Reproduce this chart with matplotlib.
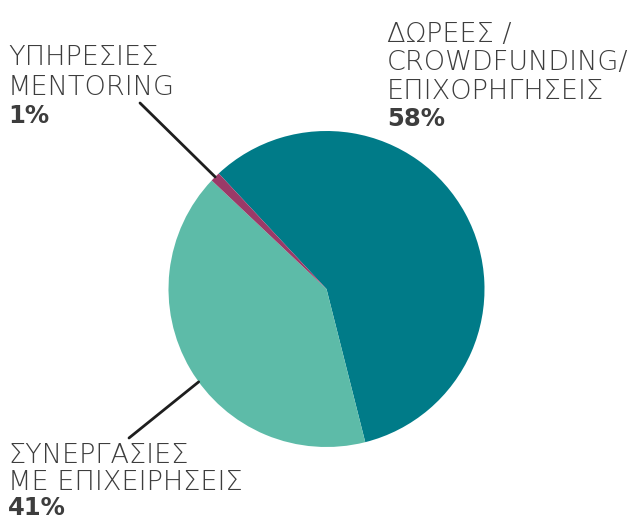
import numpy as np
import matplotlib
matplotlib.use("Agg")
import matplotlib.pyplot as plt

W, H = 640, 522

labels = [["ΔΩΡΕΕΣ /", "CROWDFUNDING/", "ΕΠΙΧΟΡΗΓΗΣΕΙΣ"],
          ["ΣΥΝΕΡΓΑΣΙΕΣ", "ΜΕ ΕΠΙΧΕΙΡΗΣΕΙΣ"],
          ["ΥΠΗΡΕΣΙΕΣ", "MENTORING"]]
values = [58, 41, 1]
colors = ["#007b88", "#5dbba8", "#9b3a68"]

text_color = "#3d3d3d"
plt.rcParams["font.family"] = ["DejaVu Sans"]


def px(x, y):
    # pixel coords from top-left -> figure fraction
    return x / W, 1 - y / H


fig = plt.figure(figsize=(W / 100, H / 100), dpi=100)
cx, cy, r = 326.5, 289, 158
ax = fig.add_axes([(cx - r) / W, (H - cy - r) / H, 2 * r / W, 2 * r / H])
wedges, _ = ax.pie(values, colors=colors, startangle=133, counterclock=False,
                   radius=1, wedgeprops=dict(linewidth=0))
ax.set_xlim(-1, 1)
ax.set_ylim(-1, 1)
ax.axis("off")


def label(x, y, lines, val, pitch=28.5):
    # y = baseline of the first line
    for i, s in enumerate(lines):
        fig.text(*px(x, y + i * pitch), s, ha="left", va="baseline", fontsize=19.5,
                 color=text_color, fontweight="light")
    fig.text(*px(x, y + len(lines) * pitch - 2), f"{val}%", ha="left", va="baseline",
             fontsize=17.5, color=text_color, fontweight="bold")


label(387, 42, labels[0], values[0])
label(8, 65, labels[2], values[2], pitch=30)
label(8, 463, labels[1], values[1], pitch=27)


# leader lines
def edge_point(w, ang=None):
    if ang is None:
        ang = (w.theta1 + w.theta2) / 2
    a = np.deg2rad(ang)
    return np.cos(a), np.sin(a)


line_style = dict(arrowstyle="-", color="#1e1e1e", lw=2, shrinkA=0, shrinkB=0)
ax.annotate("", xy=edge_point(wedges[2]), xycoords="data",
            xytext=px(140, 103), textcoords="figure fraction",
            arrowprops=line_style, annotation_clip=False)
ax.annotate("", xy=edge_point(wedges[1], 216), xycoords="data",
            xytext=px(129, 438), textcoords="figure fraction",
            arrowprops=line_style, annotation_clip=False)

fig.savefig("out.png", dpi=100)
